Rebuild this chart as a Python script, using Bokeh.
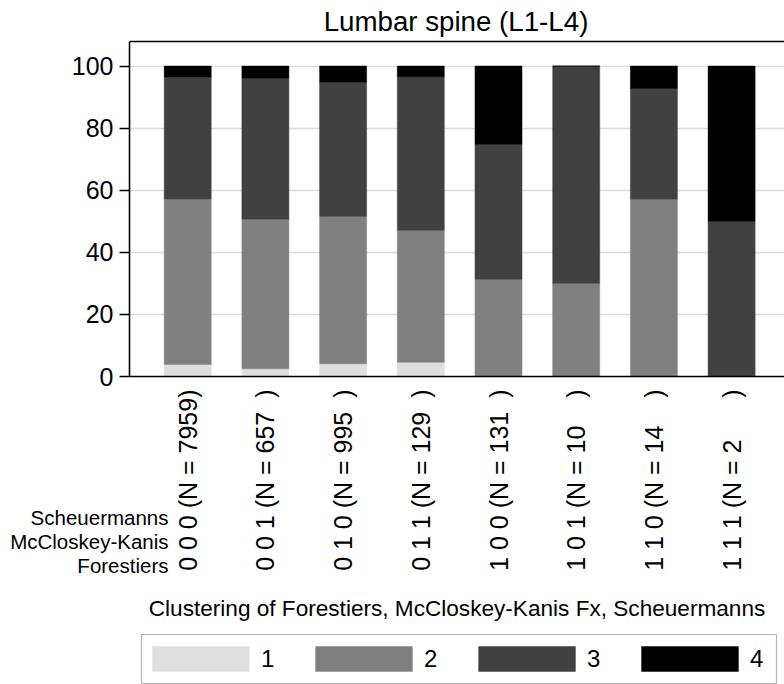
import math
from bokeh.plotting import figure
from bokeh.core.properties import value
from bokeh.models import (ColumnDataSource, FixedTicker, Range1d, Legend,
                          LegendItem, LinearAxis, Grid, BoxAnnotation)
from bokeh.embed import file_html
from bokeh.resources import INLINE

# ---- data -------------------------------------------------------------
forestiers = [0, 0, 0, 0, 1, 1, 1, 1]
mccloskey = [0, 0, 1, 1, 0, 0, 1, 1]
scheuermanns = [0, 1, 0, 1, 0, 1, 0, 1]
n_obs = [7959, 657, 995, 129, 131, 10, 14, 2]

cluster_names = ["1", "2", "3", "4"]
pct_1 = [3.9, 2.5, 4.1, 4.6, 0.0, 0.0, 0.0, 0.0]
pct_2 = [53.3, 48.2, 47.5, 42.5, 31.3, 30.0, 57.1, 0.0]
pct_3 = [39.3, 45.4, 43.2, 49.5, 43.5, 70.0, 35.7, 50.0]
pct_4 = [3.5, 3.9, 5.2, 3.4, 25.2, 0.0, 7.2, 50.0]

y_ticks = [0, 20, 40, 60, 80, 100]
row_names = ["Scheuermanns", "McCloskey-Kanis", "Forestiers"]
title_text = "Lumbar spine (L1-L4)"
x_title = "Clustering of Forestiers, McCloskey-Kanis Fx, Scheuermanns"

# ---- styling / layout constants (canvas pixels) -------------------------
colors = ["#dfdfdf", "#808080", "#414141", "#000000"]
FONT = "Liberation Sans"
FIG_SPACE = "\u2007"

W, H = 784, 684          # canvas size (the frame fills it)
AXIS_PX, BORDER_PX = 129, 41   # value-axis x / top edge of plot region
PX_X = 77.7              # px per category step
PX_Y = 3.104             # px per percentage point
X0_PX = 187.2            # x of the first category centre
Y0_PX = 376.0            # y of value 0

X_START = -X0_PX / PX_X
X_END = X_START + W / PX_X
Y_END = Y0_PX / PX_Y
Y_START = (Y0_PX - H) / PX_Y


def px2x(px):
    return X_START + px / PX_X


def px2y(py):
    return (Y0_PX - py) / PX_Y


AXIS_X = px2x(AXIS_PX)
Y_BORDER = px2y(BORDER_PX)

x = list(range(len(n_obs)))
labels = [f"{f} {m} {s} (N = {str(n).ljust(4, FIG_SPACE)})"
          for f, m, s, n in zip(forestiers, mccloskey, scheuermanns, n_obs)]

source = ColumnDataSource(dict(x=x, c1=pct_1, c2=pct_2, c3=pct_3, c4=pct_4))

p = figure(width=W, height=H, output_backend="svg", toolbar_location=None,
           title=None,
           x_range=Range1d(X_START, X_END), y_range=Range1d(Y_START, Y_END),
           x_axis_location=None, y_axis_location=None,
           min_border_left=0, min_border_right=0, min_border_top=0,
           min_border_bottom=0)
p.grid.visible = False
p.outline_line_color = None
p.background_fill_color = "white"
p.border_fill_color = "white"

# horizontal grid lines, only across the plot region
try:
    ygrid = Grid(dimension=1, ticker=FixedTicker(ticks=y_ticks[1:]),
                 cross_bounds=(AXIS_X, X_END),
                 grid_line_color="#dcdcdc", grid_line_width=1.3)
    p.add_layout(ygrid)
except AttributeError:
    p.segment(x0=AXIS_X, x1=X_END, y0=y_ticks[1:], y1=y_ticks[1:],
              line_color="#dcdcdc", line_width=1.3)

renderers = p.vbar_stack(["c1", "c2", "c3", "c4"], x="x", width=0.605,
                         source=source, fill_color=colors, line_color=colors,
                         line_width=0.5)

# title, centred over the plot region
p.text(x=[px2x(455.5)], y=[px2y(20.5)], text=[title_text],
       text_align="center", text_baseline="middle",
       text_font=value(FONT), text_font_size="27.7px", text_color="black")

# value axis
yaxis = LinearAxis(fixed_location=AXIS_X, bounds=(0, Y_BORDER),
                   ticker=FixedTicker(ticks=y_ticks))
yaxis.major_label_text_font = FONT
yaxis.major_label_text_font_size = "25px"
yaxis.major_label_text_color = "black"
yaxis.major_tick_out = 10
yaxis.major_tick_in = 0
yaxis.minor_tick_line_color = None
yaxis.major_label_standoff = 6
yaxis.axis_line_width = 1.6
yaxis.axis_line_color = "black"
yaxis.major_tick_line_color = "black"
yaxis.major_tick_line_width = 1.3
p.add_layout(yaxis, "left")

# category axis
xaxis = LinearAxis(fixed_location=0, bounds=(AXIS_X, X_END),
                   ticker=FixedTicker(ticks=x))
xaxis.major_label_overrides = {i: lab for i, lab in zip(x, labels)}
xaxis.major_label_orientation = math.pi / 2
xaxis.major_label_text_font = FONT
xaxis.major_label_text_font_size = "25px"
xaxis.major_label_text_color = "black"
xaxis.major_tick_out = 0
xaxis.major_tick_in = 0
xaxis.major_tick_line_color = None
xaxis.minor_tick_line_color = None
xaxis.major_label_standoff = 13
xaxis.axis_line_width = 1.6
xaxis.axis_line_color = "black"
xaxis.axis_label = x_title
xaxis.axis_label_text_font = FONT
xaxis.axis_label_text_font_size = "22.6px"
xaxis.axis_label_text_font_style = "normal"
xaxis.axis_label_text_color = "black"
xaxis.axis_label_standoff = 22
p.add_layout(xaxis, "below")

# top edge of the plot region
top_edge = LinearAxis(fixed_location=Y_BORDER, bounds=(AXIS_X, X_END),
                      ticker=FixedTicker(ticks=[]))
top_edge.axis_line_color = "black"
top_edge.axis_line_width = 1.5
top_edge.major_tick_line_color = None
top_edge.minor_tick_line_color = None
top_edge.major_label_text_font_size = "0px"
p.add_layout(top_edge, "above")

# row names to the left of the category codes
p.text(x=[px2x(168)] * len(row_names),
       y=[px2y(517), px2y(541), px2y(565)], text=row_names,
       text_align="right", text_baseline="middle",
       text_font=value(FONT), text_font_size="20.5px", text_color="black")

# legend (border drawn as a box so that its inner spacing can match)
legend = Legend(items=[LegendItem(label=name, renderers=[r])
                       for name, r in zip(cluster_names, renderers)],
                orientation="horizontal", location=(140, 10),
                glyph_width=121, glyph_height=31, label_standoff=0,
                label_width=14, spacing=28, padding=0, margin=0,
                border_line_color=None, background_fill_alpha=0,
                label_text_font=FONT, label_text_font_size="24px",
                label_text_color="black")
p.add_layout(legend)
p.add_layout(BoxAnnotation(left=px2x(141), right=px2x(776),
                           top=px2y(634), bottom=px2y(683),
                           fill_color=None, line_color="black",
                           line_width=1.2))

open("out.html", "w").write(file_html(p, INLINE))
